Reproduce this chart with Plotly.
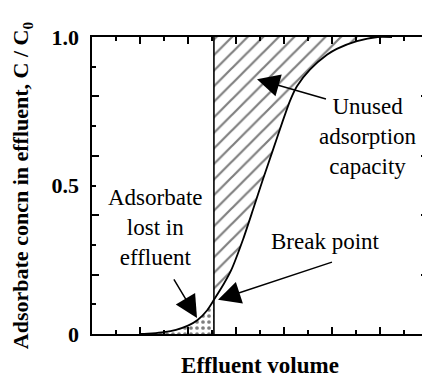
import plotly.graph_objects as go

# ---- data ----
volume = [2.0, 2.5, 3.0, 3.5, 4.0, 4.4, 4.8, 5.08, 5.5, 5.8, 6.3, 6.71, 7.12, 7.54, 7.96, 8.25, 8.54, 9.08, 9.79, 10.2, 11.04, 11.9, 12.5]
conc = [0.0, 0.002, 0.006, 0.014, 0.028, 0.047, 0.08, 0.115, 0.17, 0.215, 0.32, 0.419, 0.52, 0.62, 0.72, 0.785, 0.834, 0.89, 0.94, 0.96, 0.986, 1.0, 1.0]
breakthrough_volume = 5.08
x_range = [0, 14]
y_range = [0, 1.0]
y_tickvals = [0, 0.5, 1.0]
y_ticktext = ["0", "0.5", "1.0"]

labels = {
    "unused": {"text": "Unused<br>adsorption<br>capacity", "x": 11.5, "y": 0.664},
    "break": {"text": "Break point", "x": 9.71, "y": 0.311},
    "lost": {"text": "Adsorbate<br>lost in<br>effluent", "x": 2.63, "y": 0.358},
}
arrows = [
    # tip (x, y), tail (ax, ay)
    {"x": 6.875, "y": 0.858, "ax": 9.79, "ay": 0.79},
    {"x": 5.25, "y": 0.115, "ax": 10.04, "ay": 0.243},
    {"x": 4.375, "y": 0.054, "ax": 3.375, "ay": 0.189},
]

SERIF = "Liberation Serif"

# regions built from the data
lost_x = [v for v in volume if v <= breakthrough_volume]
lost_y = [c for v, c in zip(volume, conc) if v <= breakthrough_volume]
upper = [(v, c) for v, c in zip(volume, conc) if v >= breakthrough_volume]
hatch_x = [breakthrough_volume] + [v for v, c in reversed(upper)]
hatch_y = [y_range[1]] + [c for v, c in reversed(upper)]

fig = go.Figure()

fig.add_trace(go.Scatter(
    x=hatch_x, y=hatch_y, mode="lines", fill="toself", line=dict(width=0, color="rgba(0,0,0,0)"),
    fillcolor="white",
    fillpattern=dict(shape="/", size=11, solidity=0.2, fgcolor="black", bgcolor="white"),
    hoverinfo="skip", showlegend=False,
))
fig.add_trace(go.Scatter(
    x=lost_x, y=lost_y, mode="lines", fill="tozeroy", line=dict(width=0, color="rgba(0,0,0,0)"),
    fillcolor="white",
    fillpattern=dict(shape=".", size=6, solidity=0.3, fgcolor="black", bgcolor="white"),
    hoverinfo="skip", showlegend=False,
))
fig.add_trace(go.Scatter(
    x=[breakthrough_volume, breakthrough_volume], y=y_range, mode="lines",
    line=dict(color="black", width=1.6), hoverinfo="skip", showlegend=False,
))
fig.add_trace(go.Scatter(
    x=volume, y=conc, mode="lines", line=dict(color="black", width=1.8, shape="spline", smoothing=0.6),
    showlegend=False,
))
# invisible trace on the label axis
fig.add_trace(go.Scatter(x=[x_range[0]], y=[y_range[0]], yaxis="y2", mode="markers",
                         marker=dict(opacity=0), hoverinfo="skip", showlegend=False))

for key, lab in labels.items():
    fig.add_annotation(x=lab["x"], y=lab["y"], text=lab["text"], showarrow=False,
                       font=dict(family=SERIF, size=23, color="black"), align="center")
for a in arrows:
    fig.add_annotation(x=a["x"], y=a["y"], ax=a["ax"], ay=a["ay"], axref="x", ayref="y",
                       text="&nbsp;", font=dict(size=2), borderpad=0,
                       showarrow=True, arrowhead=2, arrowsize=3.0, arrowwidth=1.5,
                       arrowcolor="black")

axis_common = dict(showgrid=False, zeroline=False, showline=True, linecolor="black", linewidth=2,
                   mirror="ticks", ticks="inside", tickcolor="black", tickwidth=1.5, ticklen=7,
                   showticklabels=False, automargin=False)

# page body has an 8px default margin, so the figure is 8px smaller than the window
fig.update_layout(
    width=422, height=370,
    margin=dict(l=84, r=2, t=29, b=44),
    paper_bgcolor="white", plot_bgcolor="white",
    font=dict(family=SERIF, color="black"),
    xaxis=dict(range=x_range, tick0=0, dtick=2,
               minor=dict(dtick=1, ticks="inside", ticklen=4, tickcolor="black", tickwidth=1.5),
               title=dict(text="Effluent volume", font=dict(family=SERIF, size=23, weight="bold"),
                          standoff=26),
               **axis_common),
    yaxis=dict(range=y_range, tick0=0, dtick=0.2,
               minor=dict(dtick=0.1, ticks="inside", ticklen=4, tickcolor="black", tickwidth=1.5),
               **axis_common),
    yaxis2=dict(range=y_range, overlaying="y", side="left", showgrid=False, zeroline=False,
                showline=False, ticks="", tickvals=y_tickvals, ticktext=y_ticktext,
                ticklabelstandoff=12, automargin=False,
                tickfont=dict(family=SERIF, size=22, weight="bold", color="black"),
                title=dict(text="Adsorbate concn in effluent, C / C<sub>0</sub>",
                           font=dict(family=SERIF, size=22, weight="bold"), standoff=22)),
)

fig.write_html("out.html")
